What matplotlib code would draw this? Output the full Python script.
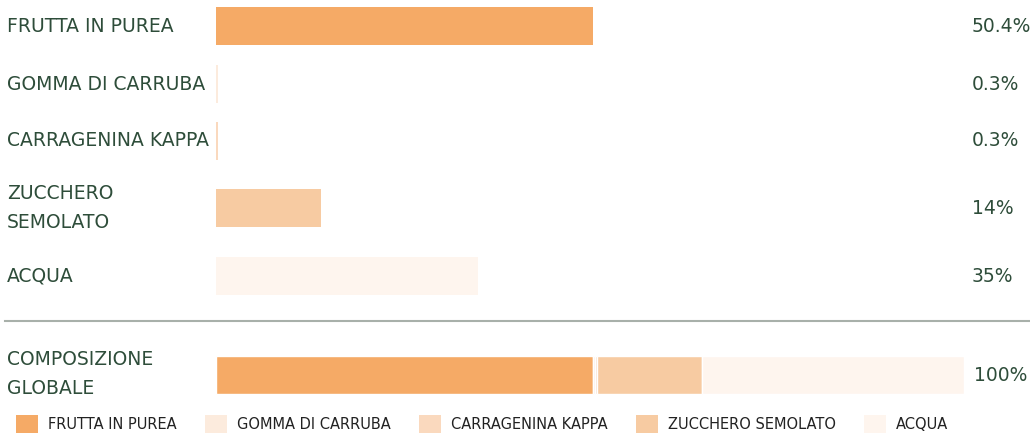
import matplotlib.pyplot as plt
from matplotlib.patches import Patch

# dati
ingredienti = ['FRUTTA IN PUREA', 'GOMMA DI CARRUBA', 'CARRAGENINA KAPPA',
               'ZUCCHERO SEMOLATO', 'ACQUA']
etichette = ['FRUTTA IN PUREA', 'GOMMA DI CARRUBA', 'CARRAGENINA KAPPA',
             'ZUCCHERO\nSEMOLATO', 'ACQUA']
percentuali = [50.4, 0.3, 0.3, 14, 35]
testo_valori = ['50.4%', '0.3%', '0.3%', '14%', '35%']
colori = ['#F5AA66', '#FCEBDD', '#FAD9BE', '#F7CBA2', '#FEF5EE']

W, H = 1030, 436
testo_col = '#2E4D3A'

fig = plt.figure(figsize=(W / 100, H / 100), dpi=100)
# asse in % orizzontale, pixel verticale
ax = fig.add_axes([216 / W, 0, (964 - 216) / W, 1])
ax.set_xlim(0, 100)
ax.set_ylim(H, 0)
ax.axis('off')

# centri delle righe (layout, in pixel)
righe_y = [26.5, 84, 141, 208, 276]
alt = 38

ax.barh(righe_y, percentuali, height=alt, color=colori, left=0)

for y, lab, val in zip(righe_y, etichette, testo_valori):
    fig.text(7 / W, 1 - y / H, lab, ha='left', va='center', fontsize=13.5,
             color=testo_col, linespacing=1.65)
    fig.text(972 / W, 1 - y / H, val, ha='left', va='center', fontsize=13.5,
             color=testo_col)

# separatore
fig.add_artist(plt.Line2D([5 / W, 1], [1 - 321 / H, 1 - 321 / H],
                          color='#A8B0AA', lw=1.5))

# barra globale
y_glob = 375
sinistra = 0
for p, c in zip(percentuali, colori):
    ax.barh([y_glob], [p], height=alt, left=sinistra, color=c,
            edgecolor='white', linewidth=1)
    sinistra += p
fig.text(7 / W, 1 - 374 / H, 'COMPOSIZIONE\nGLOBALE', ha='left', va='center',
         fontsize=13.5, color=testo_col, linespacing=1.65)
fig.text(974 / W, 1 - y_glob / H, '100%', ha='left', va='center', fontsize=13.5,
         color=testo_col)

# legenda
maniglie = [Patch(facecolor=c, edgecolor='none', label=n)
            for c, n in zip(colori, ingredienti)]
leg = fig.legend(handles=maniglie, loc='center left',
                 bbox_to_anchor=(3 / W, 1 - 424 / H), ncol=5, frameon=False,
                 fontsize=10.5, handlelength=1.5, handleheight=1.5,
                 handletextpad=0.68, columnspacing=1.95)
for t in leg.get_texts():
    t.set_color('#222222')

fig.savefig('out.png', dpi=100)
